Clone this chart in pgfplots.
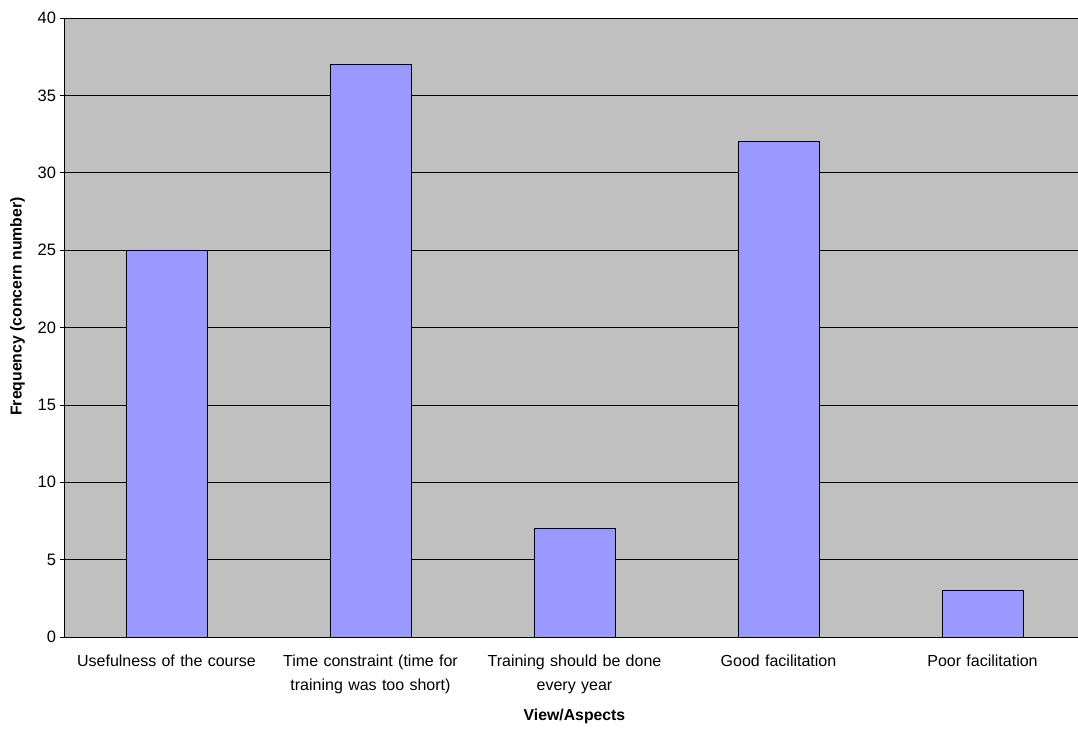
\documentclass[border=0pt]{standalone}
\usepackage{pgfplots}
\pgfplotsset{compat=1.18}
\usepackage{fontspec}
\setmainfont{Liberation Sans}
\definecolor{plotbg}{HTML}{C0C0C0}
\definecolor{barfill}{HTML}{9999FF}
\begin{document}
\begin{tikzpicture}
\begin{axis}[
  at={(0,0)}, anchor=south west,
  scale only axis, width=1020pt, height=619pt,
  xmin=-0.5, xmax=4.5, ymin=0, ymax=40,
  axis background/.style={fill=plotbg},
  axis x line*=bottom, axis y line*=left,
  axis line style={black, line width=0.8pt},
  ytick={0,5,...,40},
  ymajorgrids, grid style={black, line width=0.6pt},
  tick align=outside, major tick length=5pt,
  tick style={black, line width=0.6pt},
  xtick={0,1,2,3,4},
  xticklabels={Usefulness of the course, {Time constraint (time for\\training was too short)}, {Training should be done\\every year}, Good facilitation, Poor facilitation},
  x tick style={draw=none},
  extra x ticks={0.5,1.5,2.5,3.5},
  extra x tick labels={},
  extra x tick style={grid=none, tick style={draw=black, line width=0.6pt}},
  xticklabel style={align=center, text width=200pt, font=\fontsize{16}{24}\selectfont, yshift=-9pt},
  yticklabel style={font=\fontsize{16.5}{18}\selectfont},
  /pgf/number format/assume math mode=true,
  ylabel={\textbf{Frequency (concern number)}},
  xlabel={\textbf{View/Aspects}},
  label style={font=\fontsize{15.8}{18}\selectfont},
  ylabel style={at={(axis description cs:-0.0461,0.534)}, anchor=center},
  xlabel style={at={(axis description cs:0.5,0)}, anchor=center, yshift=-79pt},
  clip=false,
]
\addplot[ybar, bar width=81pt, draw=black, line width=0.8pt, fill=barfill] coordinates {(0,25) (1,37) (2,7) (3,32) (4,3)};
\end{axis}
\pgfresetboundingbox
\useasboundingbox (-64.5pt,-91pt) rectangle (1013.5pt,637pt);
\end{tikzpicture}
\end{document}
